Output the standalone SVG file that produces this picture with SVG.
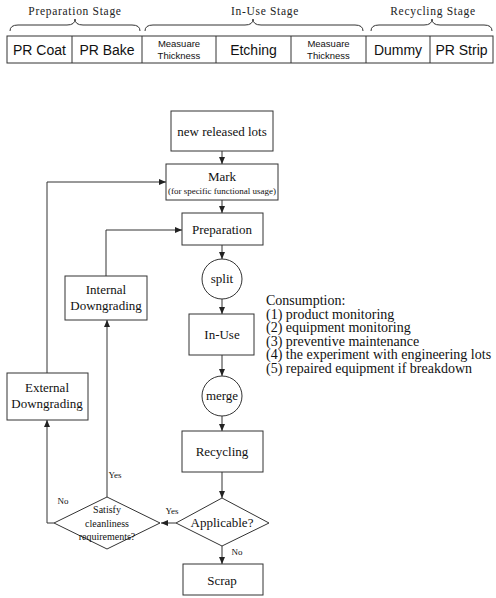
<svg xmlns="http://www.w3.org/2000/svg" width="496" height="598" viewBox="0 0 496 598">
<style>
.ln{fill:none;stroke:#333;stroke-width:1}
.bx{fill:#fff;stroke:#333;stroke-width:1}
.s{font-family:"Liberation Sans",Arial,sans-serif;fill:#111;text-anchor:middle}
.t{font-family:"Liberation Serif","Times New Roman",serif;fill:#111;text-anchor:middle}
.st{font-family:"Liberation Serif","Times New Roman",serif;fill:#222;text-anchor:middle;font-size:11.5px;letter-spacing:0.7px}
</style>
<defs>
<marker id="ah" markerUnits="userSpaceOnUse" markerWidth="8" markerHeight="7" refX="7" refY="3" orient="auto">
<path d="M0,0 L7,3 L0,6 z" fill="#222"/>
</marker>
</defs>
<rect width="496" height="598" fill="#fff"/>
<g id="stages">
<text class="st" x="75" y="15">Preparation Stage</text>
<text class="st" x="265" y="15">In-Use Stage</text>
<text class="st" x="433" y="15">Recycling Stage</text>
<path class="ln" d="M10,31 Q10,25 18,25 L67,25 Q75,25 75,19 Q75,25 83,25 L132,25 Q140,25 140,31"/>
<path class="ln" d="M145,31 Q145,25 153,25 L245,25 Q253,25 253,19 Q253,25 261,25 L355,25 Q363,25 363,31"/>
<path class="ln" d="M371,31 Q371,25 379,25 L424,25 Q432,25 432,19 Q432,25 440,25 L484,25 Q492,25 492,31"/>
</g>
<g id="steps">
<rect class="bx" x="7" y="36" width="486" height="27"/>
<path class="ln" d="M72,36V63M142,36V63M216,36V63M291,36V63M366,36V63M430,36V63"/>
<text class="s" x="39.5" y="55" font-size="14">PR Coat</text>
<text class="s" x="107" y="55" font-size="14">PR Bake</text>
<text class="s" x="179" y="47" font-size="9.5">Measuare</text>
<text class="s" x="179" y="59" font-size="9.5">Thickness</text>
<text class="s" x="253.5" y="55" font-size="14">Etching</text>
<text class="s" x="328.5" y="47" font-size="9.5">Measuare</text>
<text class="s" x="328.5" y="59" font-size="9.5">Thickness</text>
<text class="s" x="398" y="55" font-size="14">Dummy</text>
<text class="s" x="461.5" y="55" font-size="14">PR Strip</text>
</g>
<g id="connectors">
<path class="ln" d="M222,151V164" marker-end="url(#ah)"/>
<path class="ln" d="M222,200V213" marker-end="url(#ah)"/>
<path class="ln" d="M222,245V259" marker-end="url(#ah)"/>
<path class="ln" d="M222,299V314" marker-end="url(#ah)"/>
<path class="ln" d="M222,355V376" marker-end="url(#ah)"/>
<path class="ln" d="M222,416V431" marker-end="url(#ah)"/>
<path class="ln" d="M222,472V498" marker-end="url(#ah)"/>
<path class="ln" d="M222,546V564" marker-end="url(#ah)"/>
<path class="ln" d="M176,523H161" marker-end="url(#ah)"/>
<path class="ln" d="M107,497V320" marker-end="url(#ah)"/>
<path class="ln" d="M106,276V230H182" marker-end="url(#ah)"/>
<path class="ln" d="M54,523H47V420" marker-end="url(#ah)"/>
<path class="ln" d="M47,373V182H166" marker-end="url(#ah)"/>
<text class="t" x="237" y="555" font-size="9">No</text>
<text class="t" x="172" y="514" font-size="9">Yes</text>
<text class="t" x="115" y="478" font-size="9">Yes</text>
<text class="t" x="63" y="504" font-size="9">No</text>
</g>
<g id="new-lots">
<rect class="bx" x="171" y="111" width="102" height="40"/>
<text class="t" x="222" y="136" font-size="13">new released lots</text>
</g>
<g id="mark">
<rect class="bx" x="166" y="164" width="112" height="36"/>
<text class="t" x="222" y="181" font-size="13">Mark</text>
<text class="t" x="222" y="193.5" font-size="9">(for specific functional usage)</text>
</g>
<g id="preparation">
<rect class="bx" x="182" y="213" width="81" height="32"/>
<text class="t" x="222" y="234" font-size="13">Preparation</text>
</g>
<g id="split">
<circle class="bx" cx="222" cy="279" r="20"/>
<text class="t" x="222" y="283" font-size="13">split</text>
</g>
<g id="in-use">
<rect class="bx" x="189" y="314" width="65" height="41"/>
<text class="t" x="222" y="339" font-size="13">In-Use</text>
</g>
<g id="merge">
<circle class="bx" cx="222" cy="396" r="20"/>
<text class="t" x="222" y="400" font-size="13">merge</text>
</g>
<g id="recycling">
<rect class="bx" x="182" y="431" width="81" height="41"/>
<text class="t" x="222" y="456" font-size="13">Recycling</text>
</g>
<g id="applicable">
<polygon class="bx" points="222,498 269,523 222,546 176,523"/>
<text class="t" x="222" y="527" font-size="13">Applicable?</text>
</g>
<g id="scrap">
<rect class="bx" x="183" y="564" width="80" height="31"/>
<text class="t" x="222" y="585" font-size="13">Scrap</text>
</g>
<g id="satisfy">
<polygon class="bx" points="107,497 160,523 107,549 54,523"/>
<text class="t" x="107" y="513" font-size="10">Satisfy</text>
<text class="t" x="107" y="526.5" font-size="10">cleanliness</text>
<text class="t" x="107" y="540" font-size="10">requirements?</text>
</g>
<g id="internal">
<rect class="bx" x="65" y="276" width="82" height="44"/>
<text class="t" x="106" y="294" font-size="13">Internal</text>
<text class="t" x="106" y="310" font-size="13">Downgrading</text>
</g>
<g id="external">
<rect class="bx" x="7" y="373" width="81" height="47"/>
<text class="t" x="47" y="392" font-size="13">External</text>
<text class="t" x="47" y="408" font-size="13">Downgrading</text>
</g>
<g id="consumption" font-family="Liberation Serif,Times New Roman,serif" font-size="14" fill="#111">
<text x="266" y="305">Consumption:</text>
<text x="266" y="318.5">(1) product monitoring</text>
<text x="266" y="332">(2) equipment monitoring</text>
<text x="266" y="345.5">(3) preventive maintenance</text>
<text x="266" y="359">(4) the experiment with engineering lots</text>
<text x="266" y="372.5">(5) repaired equipment if breakdown</text>
</g>
</svg>
